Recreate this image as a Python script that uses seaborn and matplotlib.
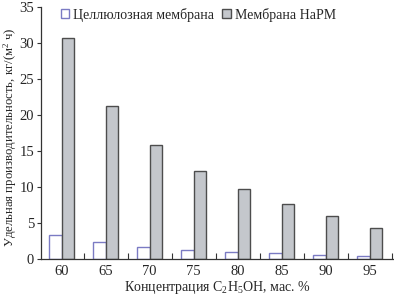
import numpy as np
import pandas as pd
import matplotlib
matplotlib.use("Agg")
import matplotlib.pyplot as plt
import seaborn as sns
from matplotlib.patches import Patch

concentrations = ["60", "65", "70", "75", "80", "85", "90", "95"]
cellulose = [3.4, 2.3, 1.7, 1.3, 1.0, 0.8, 0.6, 0.4]
harm = [30.7, 21.2, 15.8, 12.2, 9.7, 7.7, 6.0, 4.3]
series_names = ["Целлюлозная мембрана", "Мембрана НаРМ"]

df = pd.DataFrame({
    "conc": concentrations * 2,
    "val": cellulose + harm,
    "series": [series_names[0]] * len(concentrations) + [series_names[1]] * len(concentrations),
})

sns.set_style("ticks")
plt.rcParams["font.family"] = ["Liberation Serif", "DejaVu Serif"]
plt.rcParams["mathtext.fontset"] = "custom"
plt.rcParams["mathtext.rm"] = "Liberation Serif"
plt.rcParams["mathtext.it"] = "Liberation Serif"

fig = plt.figure(figsize=(3.94, 2.96), dpi=100)
ax = fig.add_axes([41/394, 37/296, 352/394, 252/296])

face = {series_names[0]: "white", series_names[1]: "#c4c7cc"}
edge = {series_names[0]: "#7b7bc4", series_names[1]: "#4d4d4d"}
sns.barplot(data=df, x="conc", y="val", hue="series", palette=face,
            width=0.57, ax=ax, legend=False, saturation=1)
for bar_container, name in zip(ax.containers, series_names):
    for b in bar_container:
        b.set_edgecolor(edge[name])
        b.set_linewidth(1.0)

ax.set_ylim(0, 35)
ax.set_xlim(-0.47, 7.53)
ax.set_yticks(np.arange(0, 36, 5))
ax.tick_params(axis="y", direction="out", length=3, width=0.8, labelsize=10.5, pad=2, color="#333333")
ax.tick_params(axis="x", which="major", length=0, labelsize=10.5, pad=4)
ax.set_xticks(np.arange(0.5, 8, 1), minor=True)
ax.tick_params(axis="x", which="minor", direction="in", length=4, width=0.8, color="#333333")
for s in ["top", "right"]:
    ax.spines[s].set_visible(False)
for s in ["left", "bottom"]:
    ax.spines[s].set_color("#333333")
    ax.spines[s].set_linewidth(0.9)

ax.set_xlabel("Концентрация C$_2$H$_5$OH, мас. %", fontsize=10, labelpad=1)
ax.set_ylabel("Удельная производительность, кг/(м$^2$ ч)", fontsize=9.2)
ax.yaxis.set_label_coords(-0.062, 0.485)

handles = [Patch(facecolor=face[n], edgecolor=edge[n], linewidth=1.0) for n in series_names]
ax.legend(handles, series_names, loc="upper left", bbox_to_anchor=(0.04, 1.02), ncol=2,
          frameon=False, fontsize=10, handlelength=0.6, handleheight=0.6,
          handletextpad=0.3, columnspacing=0.6, borderaxespad=0)

fig.savefig("out.png", dpi=100)
